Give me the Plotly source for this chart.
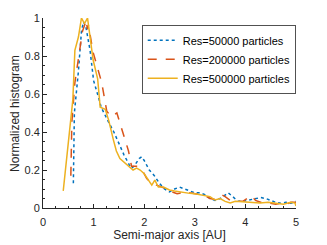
import plotly.graph_objects as go

x_50k = [0.60, 0.62, 0.70, 0.76, 0.80, 0.85, 0.93, 1.00, 1.10, 1.15, 1.30, 1.40, 1.50, 1.60, 1.70, 1.75, 1.80, 1.90, 1.95, 2.00, 2.10, 2.20, 2.30, 2.40, 2.50, 2.60, 2.70, 2.80, 2.90, 3.00, 3.10, 3.20, 3.30, 3.40, 3.50, 3.60, 3.66, 3.75, 3.85, 3.95, 4.10, 4.20, 4.30, 4.40, 4.50, 4.60, 4.70, 4.80, 4.90, 5.00]
y_50k = [0.13, 0.50, 0.72, 0.93, 0.98, 0.95, 0.83, 0.67, 0.58, 0.53, 0.45, 0.40, 0.34, 0.28, 0.23, 0.21, 0.22, 0.26, 0.27, 0.25, 0.20, 0.17, 0.13, 0.10, 0.085, 0.10, 0.11, 0.10, 0.09, 0.08, 0.08, 0.07, 0.05, 0.04, 0.05, 0.07, 0.08, 0.06, 0.035, 0.035, 0.045, 0.05, 0.055, 0.05, 0.04, 0.03, 0.025, 0.03, 0.025, 0.035]

x_200k = [0.55, 0.57, 0.63, 0.70, 0.78, 0.82, 0.85, 0.88, 0.90, 0.99, 1.08, 1.16, 1.26, 1.35, 1.46, 1.55, 1.69, 1.75, 1.85, 1.98, 2.05, 2.15, 2.25, 2.35, 2.45, 2.55, 2.65, 2.70, 2.80, 2.90, 3.00, 3.10, 3.20, 3.30, 3.40, 3.53, 3.60, 3.70, 3.80, 3.95, 4.05, 4.12, 4.20, 4.30, 4.40, 4.50, 4.60, 4.70, 4.80, 4.90, 5.00]
y_200k = [0.17, 0.45, 0.66, 0.78, 0.93, 0.96, 0.99, 0.94, 0.96, 0.82, 0.73, 0.66, 0.51, 0.48, 0.50, 0.42, 0.30, 0.22, 0.22, 0.19, 0.155, 0.13, 0.12, 0.11, 0.10, 0.085, 0.075, 0.078, 0.09, 0.08, 0.075, 0.07, 0.065, 0.05, 0.045, 0.07, 0.06, 0.04, 0.035, 0.035, 0.05, 0.065, 0.04, 0.03, 0.03, 0.025, 0.02, 0.025, 0.02, 0.03, 0.03]

x_500k = [0.40, 0.50, 0.59, 0.63, 0.70, 0.76, 0.82, 0.88, 0.93, 0.99, 1.08, 1.11, 1.13, 1.23, 1.30, 1.39, 1.45, 1.52, 1.60, 1.72, 1.78, 1.85, 1.92, 2.00, 2.08, 2.15, 2.21, 2.28, 2.38, 2.50, 2.60, 2.70, 2.80, 2.90, 3.00, 3.16, 3.30, 3.40, 3.50, 3.60, 3.70, 3.80, 3.95, 4.10, 4.29, 4.45, 4.62, 4.75, 4.90, 4.98, 5.00]
y_500k = [0.09, 0.35, 0.57, 0.83, 0.90, 1.00, 0.97, 1.00, 0.90, 0.78, 0.68, 0.56, 0.53, 0.52, 0.46, 0.36, 0.30, 0.26, 0.24, 0.21, 0.20, 0.21, 0.20, 0.18, 0.15, 0.12, 0.147, 0.11, 0.11, 0.095, 0.09, 0.085, 0.08, 0.077, 0.075, 0.068, 0.06, 0.042, 0.05, 0.035, 0.026, 0.035, 0.033, 0.03, 0.026, 0.03, 0.026, 0.02, 0.03, 0.026, 0.01]

names = ["Res=50000 particles", "Res=200000 particles", "Res=500000 particles"]
x_ticks = [0, 1, 2, 3, 4, 5]
y_ticks = [0, 0.2, 0.4, 0.6, 0.8, 1]
y_tick_labels = ["0", "0.2", "0.4", "0.6", "0.8", "1"]

axis_col = "#262626"
font = "Liberation Sans, Arial, Helvetica, sans-serif"

fig = go.Figure()
fig.add_trace(go.Scatter(x=x_50k, y=y_50k, mode="lines", name=names[0],
                         line=dict(color="#0072BD", width=1.5, dash="dot")))
fig.add_trace(go.Scatter(x=x_200k, y=y_200k, mode="lines", name=names[1],
                         line=dict(color="#D95319", width=1.5, dash="dash")))
fig.add_trace(go.Scatter(x=x_500k, y=y_500k, mode="lines", name=names[2],
                         line=dict(color="#EDB120", width=1.5)))

# page body has an 8px default margin, so the figure is sized/offset to compensate
fig.update_layout(
    width=319, height=237,
    margin=dict(l=35, r=31, t=10, b=37, autoexpand=False),
    paper_bgcolor="white", plot_bgcolor="white",
    font=dict(family=font, size=11, color=axis_col),
    legend=dict(x=0.391, y=0.963, xanchor="left", yanchor="top",
                bgcolor="white", bordercolor="#262626", borderwidth=0.8,
                font=dict(size=11, color="black"), tracegroupgap=0,
                itemwidth=30),
    showlegend=True,
    annotations=[dict(text="Normalized histogram", xref="paper", yref="paper",
                      x=-0.111, y=0.5, xanchor="center", yanchor="middle",
                      textangle=-90, showarrow=False,
                      font=dict(size=12, color=axis_col))],
)
fig.update_xaxes(range=[0, 5], tickvals=x_ticks, ticks="inside", ticklen=4,
                 showline=True, linecolor=axis_col, linewidth=0.8, tickcolor=axis_col,
                 showgrid=False, zeroline=False, automargin=False, ticklabelstandoff=4,
                 minor=dict(dtick=0.25, ticks="inside", ticklen=2, tickcolor=axis_col),
                 title=dict(text="Semi-major axis [AU]", font=dict(size=12), standoff=2),
                 tickfont=dict(size=11))
fig.update_yaxes(range=[0, 1], tickvals=y_ticks, ticktext=y_tick_labels, ticks="inside", ticklen=4,
                 showline=True, linecolor=axis_col, linewidth=0.8, tickcolor=axis_col,
                 showgrid=False, zeroline=False, automargin=False,
                 minor=dict(dtick=0.05, ticks="inside", ticklen=2, tickcolor=axis_col),
                 tickfont=dict(size=11))

fig.write_html("out.html")
